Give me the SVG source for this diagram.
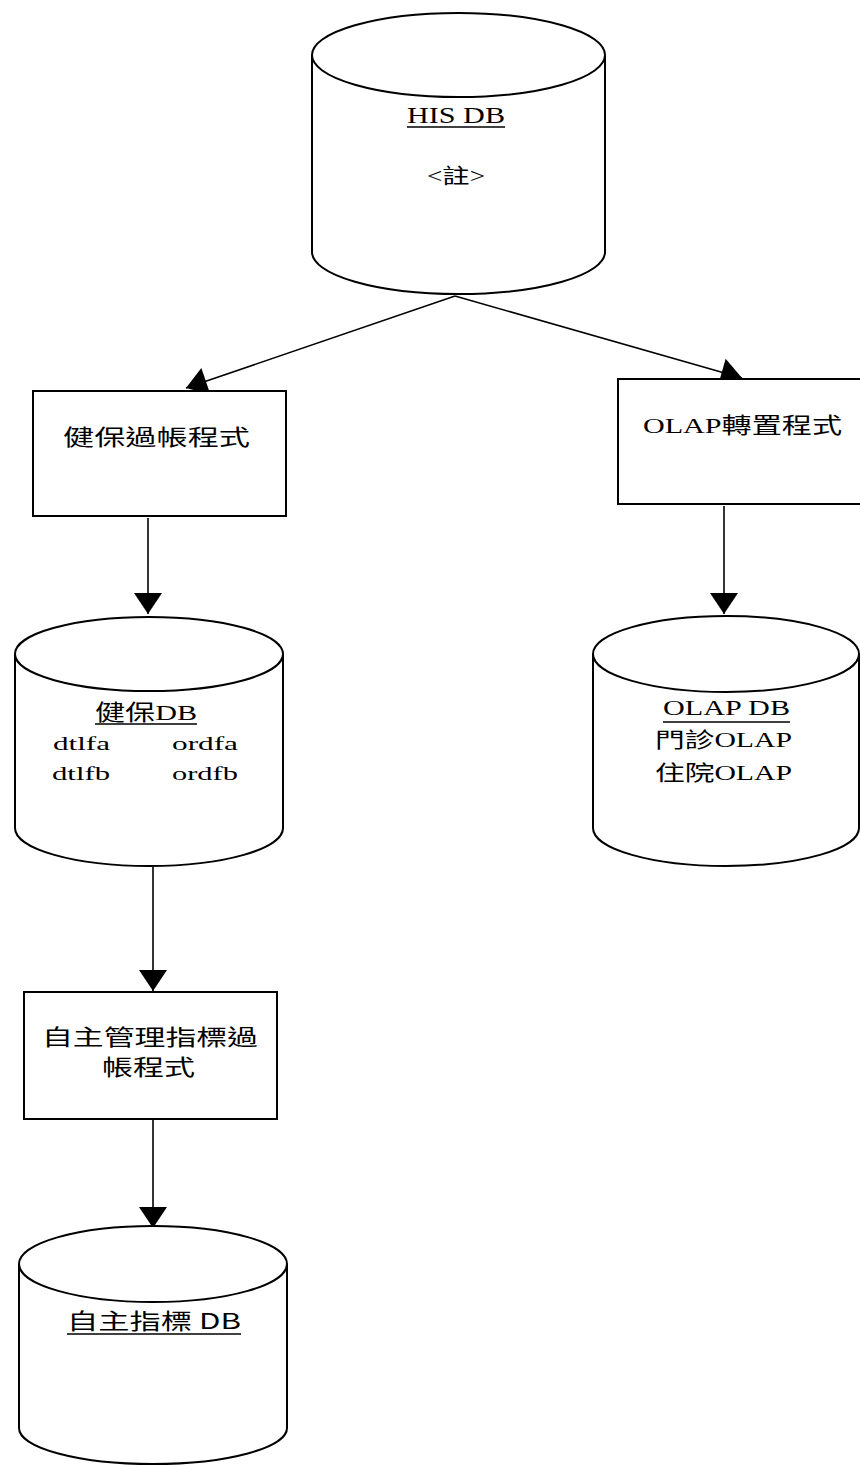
<svg xmlns="http://www.w3.org/2000/svg" width="860" height="1465" viewBox="0 0 860 1465">
  <style>
    .shape { fill: #ffffff; stroke: #000000; stroke-width: 2; }
    .edge { fill: none; stroke: #000000; stroke-width: 1.6; }
    .uline { stroke: #000000; stroke-width: 1.5; }
    .t { font-family: "Liberation Serif", "Noto Sans CJK TC", serif; fill: #000000; }
    .cjk { font-family: "Noto Sans CJK TC", "Liberation Sans", sans-serif; fill: #000000; }
  </style>
  <defs>
    <marker id="arrow" markerUnits="userSpaceOnUse" markerWidth="22" markerHeight="28" refX="21" refY="14" orient="auto" overflow="visible">
      <path d="M0,0 L21,14 L0,28 Z" fill="#000000"/>
    </marker>
  </defs>
  <rect width="860" height="1465" fill="#ffffff"/>

  <!-- connectors -->
  <g id="connectors">
    <line class="edge" x1="455" y1="296" x2="186" y2="388" marker-end="url(#arrow)"/>
    <line class="edge" x1="455" y1="296" x2="742" y2="378" marker-end="url(#arrow)"/>
    <line class="edge" x1="148" y1="518" x2="148" y2="614" marker-end="url(#arrow)"/>
    <line class="edge" x1="724" y1="506" x2="724" y2="614" marker-end="url(#arrow)"/>
    <line class="edge" x1="153" y1="867" x2="153" y2="991" marker-end="url(#arrow)"/>
    <line class="edge" x1="153" y1="1120" x2="153" y2="1228" marker-end="url(#arrow)"/>
  </g>

  <!-- HIS database -->
  <g id="his-db">
    <path class="shape" d="M312,55 L312,252 A146.5,42 0 0 0 605,252 L605,55"/>
    <ellipse class="shape" cx="458.5" cy="55" rx="146.5" ry="42"/>
    <text class="t" x="407" y="123" font-size="24" textLength="98" lengthAdjust="spacingAndGlyphs">HIS DB</text>
    <line class="uline" x1="407" y1="127" x2="505" y2="127"/>
    <text class="t" x="427" y="183" font-size="21" textLength="58" lengthAdjust="spacingAndGlyphs">&lt;註&gt;</text>
  </g>

  <!-- NHI posting program -->
  <g id="nhi-posting">
    <rect class="shape" x="33" y="391" width="253" height="125"/>
    <text class="cjk" x="63" y="445" font-size="22" textLength="187" lengthAdjust="spacingAndGlyphs">健保過帳程式</text>
  </g>

  <!-- OLAP transposition program -->
  <g id="olap-transpose">
    <rect class="shape" x="618" y="379" width="250" height="125"/>
    <text class="t" x="643" y="433" font-size="22" textLength="199" lengthAdjust="spacingAndGlyphs">OLAP轉置程式</text>
  </g>

  <!-- NHI database -->
  <g id="nhi-db">
    <path class="shape" d="M15,654 L15,828 A134,38 0 0 0 283,828 L283,654"/>
    <ellipse class="shape" cx="149" cy="654" rx="134" ry="37"/>
    <text class="t" x="95" y="720" font-size="22" textLength="102" lengthAdjust="spacingAndGlyphs">健保DB</text>
    <line class="uline" x1="95" y1="724" x2="197" y2="724"/>
    <text class="t" x="53" y="750" font-size="18" textLength="57" lengthAdjust="spacingAndGlyphs">dtlfa</text>
    <text class="t" x="172" y="750" font-size="18" textLength="66" lengthAdjust="spacingAndGlyphs">ordfa</text>
    <text class="t" x="52" y="780" font-size="18" textLength="58" lengthAdjust="spacingAndGlyphs">dtlfb</text>
    <text class="t" x="172" y="780" font-size="18" textLength="66" lengthAdjust="spacingAndGlyphs">ordfb</text>
  </g>

  <!-- OLAP database -->
  <g id="olap-db">
    <path class="shape" d="M593,654 L593,828 A133,38 0 0 0 859,828 L859,654"/>
    <ellipse class="shape" cx="726" cy="654" rx="133" ry="38"/>
    <text class="t" x="663" y="715" font-size="20" textLength="127" lengthAdjust="spacingAndGlyphs">OLAP DB</text>
    <line class="uline" x1="663" y1="722" x2="790" y2="722"/>
    <text class="t" x="655" y="747" font-size="21" textLength="137" lengthAdjust="spacingAndGlyphs">門診OLAP</text>
    <text class="t" x="655" y="780" font-size="21" textLength="137" lengthAdjust="spacingAndGlyphs">住院OLAP</text>
  </g>

  <!-- self-management indicator posting program -->
  <g id="indicator-posting">
    <rect class="shape" x="24" y="992" width="253" height="127"/>
    <text class="cjk" x="42" y="1045" font-size="22" textLength="216" lengthAdjust="spacingAndGlyphs">自主管理指標過</text>
    <text class="cjk" x="102" y="1075" font-size="22" textLength="93" lengthAdjust="spacingAndGlyphs">帳程式</text>
  </g>

  <!-- self-management indicator database -->
  <g id="indicator-db">
    <path class="shape" d="M19,1264 L19,1428 A134,36 0 0 0 287,1428 L287,1264"/>
    <ellipse class="shape" cx="153" cy="1264" rx="134" ry="38"/>
    <text class="cjk" x="67" y="1329" font-size="22" textLength="174" lengthAdjust="spacingAndGlyphs">自主指標 DB</text>
    <line class="uline" x1="67" y1="1334" x2="241" y2="1334"/>
  </g>
</svg>
